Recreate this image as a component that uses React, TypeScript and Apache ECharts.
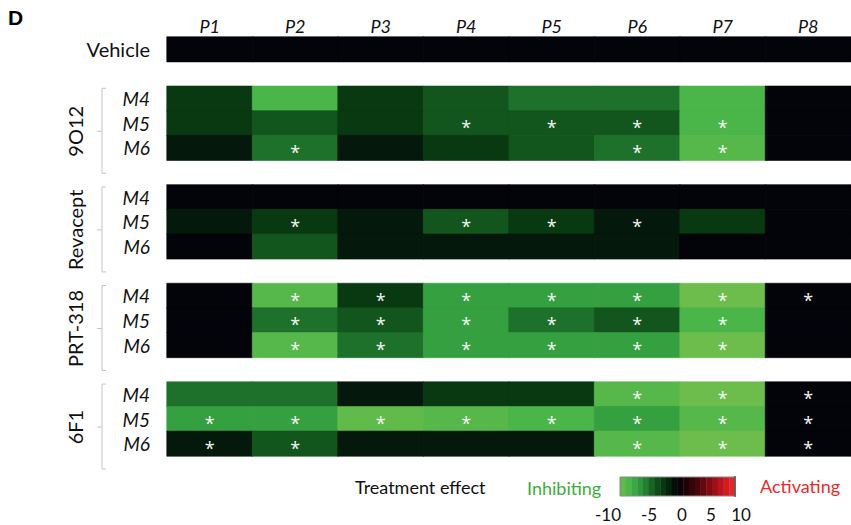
import React, { useEffect, useRef } from "react";
import * as echarts from "echarts";

// ---------- data ----------
const columns = ["P1", "P2", "P3", "P4", "P5", "P6", "P7", "P8"];
const doses = ["M4", "M5", "M6"];
const groups = ["9O12", "Revacept", "PRT-318", "6F1"];

const vehicleEffect = [0, 0, 0, 0, 0, 0, 0, 0];

const effect9O12 = [
  [-2.5, -8.5, -2.5, -4, -5, -5, -8.5, 0],
  [-2.5, -4, -2.5, -4, -4, -4, -8.5, 0],
  [-1, -5, -1, -2.5, -4, -5, -9, 0],
];
const sig9O12 = [
  [0, 0, 0, 0, 0, 0, 0, 0],
  [0, 0, 0, 1, 1, 1, 1, 0],
  [0, 1, 0, 0, 0, 1, 1, 0],
];

const effectRevacept = [
  [0, 0, 0, 0, 0, 0, 0, 0],
  [-1, -2.5, -1, -4, -2.5, -1, -2.5, 0],
  [0, -4, -1, -1, -1, -1, 0, 0],
];
const sigRevacept = [
  [0, 0, 0, 0, 0, 0, 0, 0],
  [0, 1, 0, 1, 1, 1, 0, 0],
  [0, 0, 0, 0, 0, 0, 0, 0],
];

const effectPRT318 = [
  [0, -9, -2.5, -7, -7, -7, -10, 0],
  [0, -5, -4, -7, -5, -4, -8.5, 0],
  [0, -9, -5, -7, -7, -7, -10, 0],
];
const sigPRT318 = [
  [0, 1, 1, 1, 1, 1, 1, 1],
  [0, 1, 1, 1, 1, 1, 1, 0],
  [0, 1, 1, 1, 1, 1, 1, 0],
];

const effect6F1 = [
  [-5, -5, -1, -2.5, -2.5, -9, -10, 0],
  [-7, -7, -9.5, -9, -8.5, -7, -9, 0],
  [-1, -4, -1, -1, -1, -9, -10, 0],
];
const sig6F1 = [
  [0, 0, 0, 0, 0, 1, 1, 1],
  [1, 1, 1, 1, 1, 1, 1, 1],
  [1, 1, 0, 0, 0, 1, 1, 1],
];

const groupEffects = [effect9O12, effectRevacept, effectPRT318, effect6F1];
const groupSig = [sig9O12, sigRevacept, sigPRT318, sig6F1];

const legendTicks = [-10, -5, 0, 5, 10];
const scaleMin = -10;
const scaleMax = 10;

// ---------- styling / layout ----------
const palette = [
  "#6cbd4b", "#3fb34a", "#2a8c36", "#12561d", "#052f0d", "#03030a",
  "#2a0306", "#55060c", "#900d15", "#c8171f", "#ef2a2a",
];
const legendTickX = [608, 649, 682, 711, 741];
const FONT = "Lato, 'Open Sans', sans-serif";

const colorOf = (v: number) => echarts.color.lerp((v - scaleMin) / (scaleMax - scaleMin), palette);

// ---------- build rows ----------
type Row = { key: string; label: string; kind: "n" | "it" | "gap" };
const rows: Row[] = [{ key: "Vehicle", label: "Vehicle", kind: "n" }];
const cells: any[] = [];
const pushCell = (x: number, y: number, v: number, s: number) =>
  cells.push({ value: [x, y, v, s], itemStyle: { borderColor: colorOf(v), borderWidth: 0.6 } });
vehicleEffect.forEach((v, x) => pushCell(x, 0, v, 0));
const groupRowStart: number[] = [];
groups.forEach((g, gi) => {
  rows.push({ key: "gap" + gi, label: "", kind: "gap" });
  groupRowStart.push(rows.length);
  doses.forEach((d, di) => {
    const y = rows.length;
    rows.push({ key: g + "-" + d, label: d, kind: "it" });
    groupEffects[gi][di].forEach((v, x) => pushCell(x, y, v, groupSig[gi][di][x]));
  });
});

const GRID_LEFT = 167;
const GRID_TOP = 37;
const GRID_BOTTOM_Y = 456;
const W = 851;
const H = 525;

export default function App() {
  const ref = useRef<HTMLDivElement>(null);
  useEffect(() => {
    if (!ref.current) return;
    const chart = echarts.init(ref.current, null, { renderer: "svg" });
    const rowH = (GRID_BOTTOM_Y - GRID_TOP) / rows.length;

    const graphics: any[] = [];
    graphics.push({
      type: "text", left: 8, top: 7,
      style: { text: "D", font: "bold 21px Arial, 'Liberation Sans', sans-serif", fill: "#000" },
    });
    groups.forEach((g, gi) => {
      const blockTop = GRID_TOP + groupRowStart[gi] * rowH;
      const t = blockTop + 2;
      const b = blockTop + 87;
      const m = blockTop + 45;
      graphics.push({
        type: "polyline",
        shape: { points: [[106, t], [102, t], [102, b], [106, b]] },
        style: { stroke: "#c4c4c4", lineWidth: 1, fill: null },
      });
      graphics.push({
        type: "line",
        shape: { x1: 97, y1: m, x2: 102, y2: m },
        style: { stroke: "#c4c4c4", lineWidth: 1 },
      });
      graphics.push({
        type: "text", x: 75, y: m, rotation: Math.PI / 2,
        style: {
          text: g, font: `20px ${FONT}`, fill: "#111",
          align: "center", verticalAlign: "middle",
        },
      });
    });

    // legend
    const barL = 620, barR = 735, barT = 477, barB = 496;
    const steps = 20;
    const stepW = (barR - barL) / steps;
    for (let i = 0; i < steps; i++) {
      const t = (i + 0.5) / steps;
      graphics.push({
        type: "rect",
        shape: { x: barL + i * stepW, y: barT, width: stepW + 0.4, height: barB - barT },
        style: { fill: echarts.color.lerp(t, palette) },
      });
    }
    graphics.push({
      type: "rect",
      shape: { x: barL, y: barT, width: barR - barL, height: barB - barT },
      style: { fill: null, stroke: "#888", lineWidth: 1 },
    });
    graphics.push({
      type: "line",
      shape: { x1: barR, y1: barT - 1, x2: barR, y2: barB + 1 },
      style: { stroke: "#555", lineWidth: 1.5 },
    });
    graphics.push({
      type: "text", x: 355, y: 487,
      style: { text: "Treatment effect", font: `18px ${FONT}`, fill: "#111", verticalAlign: "middle" },
    });
    graphics.push({
      type: "text", x: 527, y: 488,
      style: { text: "Inhibiting", font: `18px ${FONT}`, fill: "#3aae3c", verticalAlign: "middle" },
    });
    graphics.push({
      type: "text", x: 760, y: 486,
      style: { text: "Activating", font: `18px ${FONT}`, fill: "#ec2a2a", verticalAlign: "middle" },
    });
    legendTicks.forEach((v, i) => {
      graphics.push({
        type: "text", x: legendTickX[i], y: 514,
        style: { text: String(v), font: `17px ${FONT}`, fill: "#111", align: "center", verticalAlign: "middle" },
      });
    });

    chart.setOption({
      animation: false,
      backgroundColor: "#fff",
      grid: { left: GRID_LEFT, right: 0, top: GRID_TOP, bottom: H - GRID_BOTTOM_Y, containLabel: false },
      xAxis: {
        type: "category",
        position: "top",
        data: columns,
        axisLine: { show: false },
        axisTick: { show: false },
        splitLine: { show: false },
        axisLabel: { fontFamily: FONT, fontSize: 18, fontStyle: "italic", color: "#111", margin: 2 },
      },
      yAxis: {
        type: "category",
        inverse: true,
        data: rows.map((r) => r.key),
        axisLine: { show: false },
        axisTick: { show: false },
        splitLine: { show: false },
        axisLabel: {
          margin: 17,
          interval: 0,
          formatter: (_v: string, idx: number) => {
            const r = rows[idx];
            if (!r || r.kind === "gap") return "";
            return `{${r.kind}|${r.label}}`;
          },
          rich: {
            it: { fontFamily: FONT, fontSize: 19, fontStyle: "italic", color: "#111" },
            n: { fontFamily: FONT, fontSize: 20, color: "#111" },
          },
        },
      },
      visualMap: {
        show: false,
        type: "continuous",
        min: scaleMin,
        max: scaleMax,
        dimension: 2,
        seriesIndex: 0,
        inRange: { color: palette },
      },
      graphic: graphics,
      series: [
        {
          type: "heatmap",
          data: cells,
          label: {
            show: true,
            color: "#f4f4f4",
            fontSize: 18,
            fontWeight: "normal",
            fontFamily: "'Open Sans', sans-serif",
            offset: [0, 4],
            formatter: (p: any) => (p.value[3] ? "*" : ""),
          },
          emphasis: { disabled: true },
        },
      ],
    });
    return () => chart.dispose();
  }, []);
  return <div ref={ref} style={{ width: W, height: H, position: "absolute", left: 0, top: 0 }} />;
}
